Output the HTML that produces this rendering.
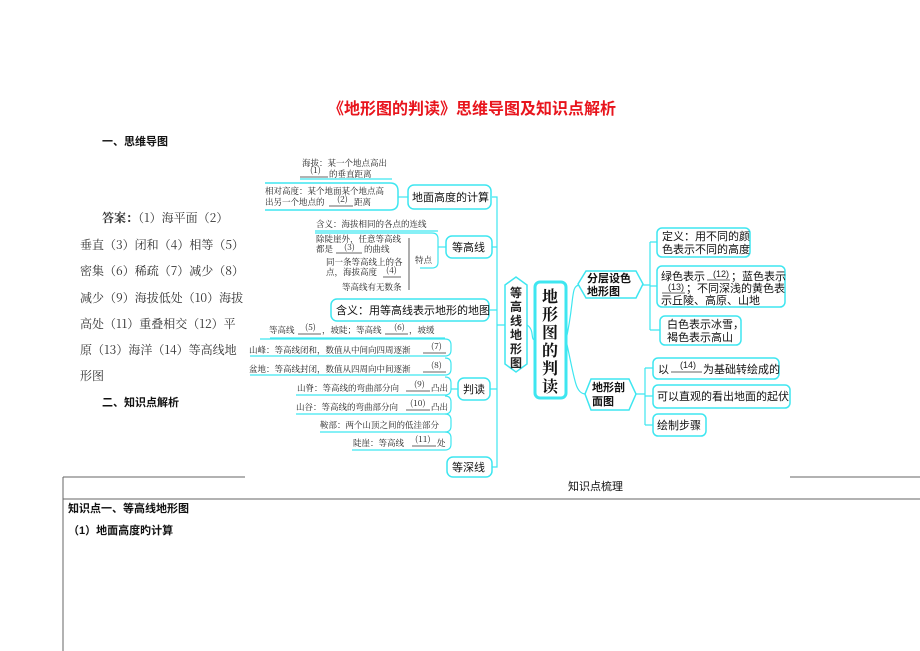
<!DOCTYPE html>
<html><head><meta charset="utf-8"><style>
body{margin:0;background:#fff;}
svg{display:block;font-family:"Liberation Sans","Noto Sans CJK SC",sans-serif;}
.s{font-size:8.5px;fill:#222;font-family:"Noto Serif CJK SC","Noto Sans CJK SC",serif;}
.m{font-size:11px;fill:#111;}
.b{fill:#fff;stroke:#3ee6f0;stroke-width:1.5;}
.l{fill:none;stroke:#3ee6f0;stroke-width:1.2;}
.u{stroke:#333;stroke-width:0.8;}
</style></head><body>
<svg width="920" height="651" viewBox="0 0 920 651">
<text x="328" y="114" font-size="16" fill="#e8141c" font-weight="bold">《地形图的判读》思维导图及知识点解析</text>
<text x="102" y="145" font-size="11" font-weight="bold" fill="#111">一、思维导图</text>
<g font-size="12" fill="#333" font-family="Noto Serif CJK SC,Noto Sans CJK SC,serif">
<text x="102" y="222"><tspan font-weight="bold">答案：</tspan>（1）海平面（2）</text>
<text x="80" y="249">垂直（3）闭和（4）相等（5）</text>
<text x="80" y="275">密集（6）稀疏（7）减少（8）</text>
<text x="80" y="302">减少（9）海拔低处（10）海拔</text>
<text x="80" y="328">高处（11）重叠相交（12）平</text>
<text x="80" y="354">原（13）海洋（14）等高线地</text>
<text x="80" y="380">形图</text>
</g>
<text x="102" y="406" font-size="11" font-weight="bold" fill="#111">二、知识点解析</text>

<path class="l" d="M492 197 H497 V467 H492 M492 247 H497 M489 310 H497 M490 389 H497 M497 325 H505"/>
<path class="l" d="M527 325 C535 330 530 340 535 340"/>
<path class="l" d="M566 340 C575 300 570 285 580 285 M566 340 C575 380 575 394 586 394"/>
<path class="l" d="M643 285 H650 M650 242 V330 M650 242 H657 M650 286 H657 M650 330 H660"/>
<path class="l" d="M636 394 H645 M645 368 V425 M645 368 H653 M645 396 H653 M645 425 H653"/>
<text x="302" y="166" class="s">海拔：某一个地点高出</text>
<text x="310" y="173" class="s" font-size="8">(1)</text>
<line x1="300" y1="177" x2="328" y2="177" class="u"/>
<text x="329" y="177" class="s">的垂直距离</text>
<line x1="300" y1="179" x2="392" y2="179" class="l"/>
<path class="b" d="M265 183 H390 Q398 183 398 191 V202 Q398 210 390 210 H265"/>
<text x="265" y="194" class="s">相对高度：某个地面某个地点高</text>
<text x="265" y="205" class="s">出另一个地点的</text>
<text x="337" y="202" class="s" font-size="8">(2)</text>
<line x1="329" y1="206" x2="353" y2="206" class="u"/>
<text x="354" y="205" class="s">距离</text>
<path class="l" d="M398 197 H408"/>
<rect x="408" y="185" width="83" height="24" rx="6" class="b"/>
<text x="412" y="201" class="m">地面高度的计算</text>

<text x="316" y="227" class="s">含义：海拔相同的各点的连线</text>
<line x1="315" y1="231" x2="438" y2="231" class="l"/>
<path class="l" d="M315 233 H432 Q438 233 438 239 V262 Q438 268 432 268 H420"/>
<text x="316" y="242" class="s">除陡崖外，任意等高线</text>
<text x="316" y="252" class="s">都是</text>
<text x="344" y="250" class="s" font-size="8">(3)</text>
<line x1="336" y1="253" x2="362" y2="253" class="u"/>
<text x="364" y="252" class="s">的曲线</text>
<text x="326" y="265" class="s">同一条等高线上的各</text>
<text x="326" y="275" class="s">点，海拔高度</text>
<text x="386" y="273" class="s" font-size="8">(4)</text>
<line x1="383" y1="277" x2="401" y2="277" class="u"/>
<text x="342" y="290" class="s">等高线有无数条</text>
<path d="M409 238 V290" stroke="#333" stroke-width="0.8"/>
<text x="415" y="263" class="s">特点</text>
<path class="l" d="M438 247 H446"/>
<rect x="446" y="236" width="46" height="22" rx="6" class="b"/>
<text x="452" y="251" class="m">等高线</text>
<rect x="331" y="299" width="158" height="22" rx="6" class="b"/>
<text x="336" y="314" class="m">含义：用等高线表示地形的地图</text>

<text x="269" y="333" class="s">等高线</text>
<text x="305" y="330" class="s" font-size="8">(5)</text>
<line x1="298" y1="334" x2="321" y2="334" class="u"/>
<text x="322" y="333" class="s">，坡陡；等高线</text>
<text x="394" y="330" class="s" font-size="8">(6)</text>
<line x1="385" y1="334" x2="408" y2="334" class="u"/>
<text x="409" y="333" class="s">，坡缓</text>
<line x1="270" y1="338" x2="445" y2="338" class="l"/>
<path class="l" d="M250 356 H445 Q451 356 451 350 V345 Q451 339 445 339 H260"/>
<text x="249" y="353" class="s">山峰：等高线闭和，数值从中间向四周逐渐</text>
<text x="431" y="349" class="s" font-size="8">(7)</text>
<line x1="423" y1="353" x2="446" y2="353" class="u"/>
<path class="l" d="M250 375 H445 Q451 375 451 369 V364 Q451 358 445 358"/>
<text x="249" y="372" class="s">盆地：等高线封闭，数值从四周向中间逐渐</text>
<text x="431" y="368" class="s" font-size="8">(8)</text>
<line x1="423" y1="372" x2="446" y2="372" class="u"/>
<path class="l" d="M296 395 H445 Q451 395 451 389 V383 Q451 377 445 377"/>
<text x="297" y="391" class="s">山脊：等高线的弯曲部分向</text>
<text x="414" y="387" class="s" font-size="8">(9)</text>
<line x1="406" y1="391" x2="430" y2="391" class="u"/>
<text x="431" y="391" class="s">凸出</text>
<path class="l" d="M296 414 H445 Q451 414 451 408 V402 Q451 396 445 396"/>
<text x="296" y="410" class="s">山谷：等高线的弯曲部分向</text>
<text x="410" y="406" class="s" font-size="8">(10)</text>
<line x1="406" y1="410" x2="430" y2="410" class="u"/>
<text x="431" y="410" class="s">凸出</text>
<path class="l" d="M320 432 H445 Q451 432 451 426 V420 Q451 414 445 414"/>
<text x="320" y="428" class="s">鞍部：两个山顶之间的低洼部分</text>
<path class="l" d="M352 450 H445 Q451 450 451 444 V438 Q451 432 445 432"/>
<text x="353" y="446" class="s">陡崖：等高线</text>
<text x="415" y="442" class="s" font-size="8">(11)</text>
<line x1="412" y1="446" x2="436" y2="446" class="u"/>
<text x="437" y="446" class="s">处</text>
<path class="l" d="M451 389 H458"/>
<rect x="458" y="378" width="32" height="22" rx="6" class="b"/>
<text x="463" y="393" class="m">判读</text>
<rect x="447" y="457" width="45" height="20" rx="6" class="b"/>
<text x="452" y="471" class="m">等深线</text>

<path class="b" d="M505 285 L516 277 L527 285 V364 L516 372 L505 364 Z"/>
<g font-size="12" font-weight="bold" fill="#222">
<text x="510" y="297">等</text><text x="510" y="311">高</text><text x="510" y="325">线</text><text x="510" y="339">地</text><text x="510" y="353">形</text><text x="510" y="367">图</text>
</g>
<rect x="535" y="282" width="31" height="116" rx="5" fill="#fff" stroke="#3ee6f0" stroke-width="3"/>
<g font-size="16" font-weight="bold" fill="#111" font-family="Noto Serif CJK SC,serif">
<text x="542" y="302">地</text><text x="542" y="320">形</text><text x="542" y="338">图</text><text x="542" y="356">的</text><text x="542" y="374">判</text><text x="542" y="392">读</text>
</g>
<path class="b" d="M586 271 H636 L643 284 L636 298 H586 L578 284 Z"/>
<text x="587" y="282" class="m" font-weight="bold">分层设色</text>
<text x="587" y="295" class="m" font-weight="bold">地形图</text>
<path class="b" d="M591 379 H629 L636 394 L629 410 H591 L585 394 Z"/>
<text x="592" y="391" class="m" font-weight="bold">地形剖</text>
<text x="592" y="405" class="m" font-weight="bold">面图</text>

<rect x="657" y="228" width="93" height="29" rx="5" class="b"/>
<text x="662" y="240" class="m">定义：用不同的颜</text>
<text x="662" y="253" class="m">色表示不同的高度</text>
<rect x="657" y="266" width="128" height="41" rx="5" class="b"/>
<text x="661" y="280" class="m">绿色表示</text>
<text x="713" y="277" font-size="9" fill="#222">(12)</text>
<line x1="707" y1="280" x2="730" y2="280" class="u"/>
<text x="731" y="280" class="m">；蓝色表示</text>
<text x="668" y="290" font-size="9" fill="#222">(13)</text>
<line x1="662" y1="293" x2="685" y2="293" class="u"/>
<text x="686" y="292" class="m">；不同深浅的黄色表</text>
<text x="661" y="304" class="m">示丘陵、高原、山地</text>
<rect x="660" y="316" width="81" height="29" rx="5" class="b"/>
<text x="667" y="328" class="m">白色表示冰雪，</text>
<text x="667" y="341" class="m">褐色表示高山</text>
<rect x="653" y="358" width="126" height="21" rx="5" class="b"/>
<text x="658" y="373" class="m">以</text>
<text x="680" y="368" font-size="9" fill="#222">(14)</text>
<line x1="671" y1="372" x2="702" y2="372" class="u"/>
<text x="703" y="373" class="m">为基础转绘成的</text>
<rect x="653" y="385" width="137" height="23" rx="5" class="b"/>
<text x="657" y="400" class="m">可以直观的看出地面的起伏</text>
<rect x="653" y="414" width="53" height="22" rx="5" class="b"/>
<text x="657" y="429" class="m">绘制步骤</text>

<path d="M63 477 H245 M790 477 H920 M63 477 V651 M63 499 H920" stroke="#666" stroke-width="1" fill="none"/>
<text x="568" y="490" font-size="11" fill="#111">知识点梳理</text>
<text x="68" y="512" font-size="11" font-weight="bold" fill="#111">知识点一、等高线地形图</text>
<text x="68" y="534" font-size="11" font-weight="bold" fill="#111">（1）地面高度旳计算</text>
</svg>
</body></html>
